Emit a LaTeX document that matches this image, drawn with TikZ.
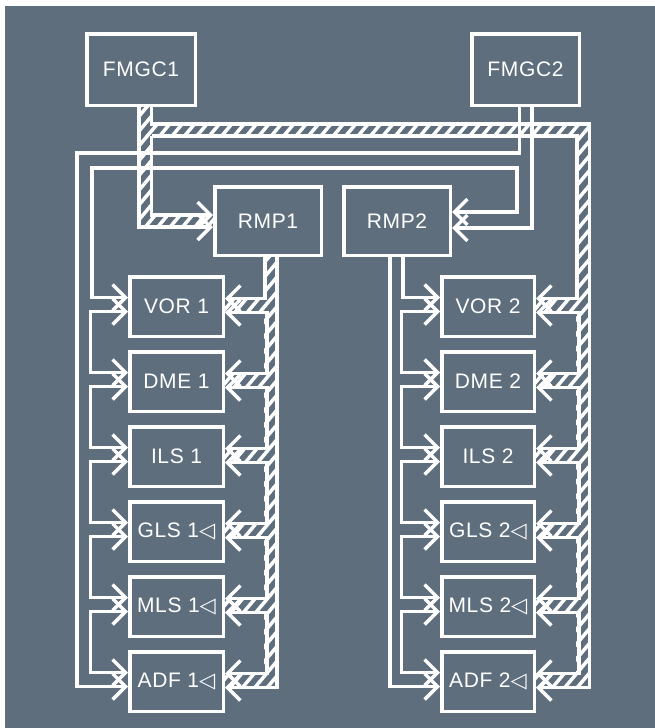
\documentclass[tikz,border=0pt]{standalone}
\usepackage{fontspec}
\setmainfont{Liberation Sans}[LetterSpace=3]
\newfontfamily\symf{DejaVu Sans}
\usetikzlibrary{arrows.meta,calc}
\definecolor{bg}{RGB}{94,110,125}
\begin{document}
\begin{tikzpicture}[x=1pt,y=-1pt,
  box/.style={draw=white,line width=3.5pt,text=white,inner sep=0pt,
    font=\fontsize{21}{24}\selectfont},
  lbox/.style={box,minimum width=93.5pt,minimum height=59.5pt},
  rbox/.style={box,minimum width=92.5pt,minimum height=59.5pt},
  wire/.style={draw=white,line width=3.5pt},
  hatch/.style={white,line width=3.5pt},
  >={Straight Barb[length=13pt,width=26pt]}]
\useasboundingbox (0,0) rectangle (655,728);
\fill[white] (0,0) rectangle (655,728);
\fill[bg] (5,6) rectangle (655,728);

% boxes
\node[box,minimum width=108.5pt,minimum height=71.5pt] (fmgc1) at (141,69.5) {FMGC1};
\node[box,minimum width=107.5pt,minimum height=71.5pt] (fmgc2) at (525.5,69.5) {FMGC2};
\node[box,minimum width=106.5pt,minimum height=68.5pt] (rmp1) at (268,221) {RMP1};
\node[box,minimum width=106.5pt,minimum height=68.5pt] (rmp2) at (397,221) {RMP2};
\node[lbox] (vor1) at (176.5,306.5) {VOR 1};
\node[lbox] (dme1) at (176.5,381.5) {DME 1};
\node[lbox] (ils1) at (176.5,456.5) {ILS 1};
\node[lbox] (gls1) at (176.5,531.5) {GLS 1{\symf ◁}};
\node[lbox] (mls1) at (176.5,606.5) {MLS 1{\symf ◁}};
\node[lbox] (adf1) at (176.5,681.5) {ADF 1{\symf ◁}};
\node[rbox] (vor2) at (488,306.5) {VOR 2};
\node[rbox] (dme2) at (488,381.5) {DME 2};
\node[rbox] (ils2) at (488,456.5) {ILS 2};
\node[rbox] (gls2) at (488,531.5) {GLS 2{\symf ◁}};
\node[rbox] (mls2) at (488,606.5) {MLS 2{\symf ◁}};
\node[rbox] (adf2) at (488,681.5) {ADF 2{\symf ◁}};

% hatching inside the buses
\begin{scope}
\clip (138,105) rectangle (152,227)
      (138,214) rectangle (214.75,228)
      (151.5,123) rectangle (590.5,137)
      (576,123) rectangle (590.5,687.5)
      (264,255) rectangle (278,687.5)
      \foreach \y in {306.5,381.5,456.5,531.5,606.5,681.5}{
        (223.25,\y-8) rectangle (265,\y+6)
        (534.25,\y-8) rectangle (577,\y+6)};
\foreach \i in {-52,...,55} \draw[hatch] ({\i*12.4},740) -- ++(621,-740);
\end{scope}

% junction points
\coordinate (jA) at (151.5,136);

% FMGC1 hatched bus
\draw[wire,->] ($(fmgc1.south)+(-2,0)$) |- ($(rmp1.west)+(0,6)$);
\draw[wire,->] ($(fmgc1.south)+(10.5,0)$) |- (589.5,124) |- ($(adf2.east)+(0,6)$);
\draw[wire,->] (jA) |- ($(rmp1.west)+(0,-6)$);
\draw[wire,->] (jA) -| (577,150) |- ($(vor2.east)+(0,-8)$);
\foreach \a/\b in {vor2/dme2,dme2/ils2,ils2/gls2,gls2/mls2,mls2/adf2}
  \draw[wire,<->] ($(\a.east)+(0,6)$) -- ++(42.75,0) |- ($(\b.east)+(0,-8)$);

% RMP1 hatched bus
\draw[wire,->] ($(rmp1.south)+(9,0)$) |- ($(adf1.east)+(0,6)$);
\draw[wire,->] ($(rmp1.south)+(-3,0)$) |- ($(vor1.east)+(0,-8)$);
\foreach \a/\b in {vor1/dme1,dme1/ils1,ils1/gls1,gls1/mls1,mls1/adf1}
  \draw[wire,<->] ($(\a.east)+(0,6)$) -- ++(41.75,0) |- ($(\b.east)+(0,-8)$);

% FMGC2 plain lines
\draw[wire,->] ($(fmgc2.south)+(-6,0)$) |- (77,153) |- ($(adf1.west)+(0,5)$);
\draw[wire,->] ($(fmgc2.south)+(6.5,0)$) |- ($(rmp2.east)+(0,7)$);
\draw[wire,<->] ($(rmp2.east)+(0,-9)$) -| (517,168) -- (92,168) |- ($(vor1.west)+(0,-9)$);
\foreach \a/\b in {vor1/dme1,dme1/ils1,ils1/gls1,gls1/mls1,mls1/adf1}
  \draw[wire,<->] ($(\a.west)+(0,5)$) -- ++(-37.75,0) |- ($(\b.west)+(0,-9)$);

% RMP2 plain lines
\draw[wire,->] ($(rmp2.south)+(-7,0)$) |- ($(adf2.west)+(0,5)$);
\draw[wire,->] ($(rmp2.south)+(6,0)$) |- ($(vor2.west)+(0,-9)$);
\foreach \a/\b in {vor2/dme2,dme2/ils2,ils2/gls2,gls2/mls2,mls2/adf2}
  \draw[wire,<->] ($(\a.west)+(0,5)$) -- ++(-38.75,0) |- ($(\b.west)+(0,-9)$);
\end{tikzpicture}
\end{document}
